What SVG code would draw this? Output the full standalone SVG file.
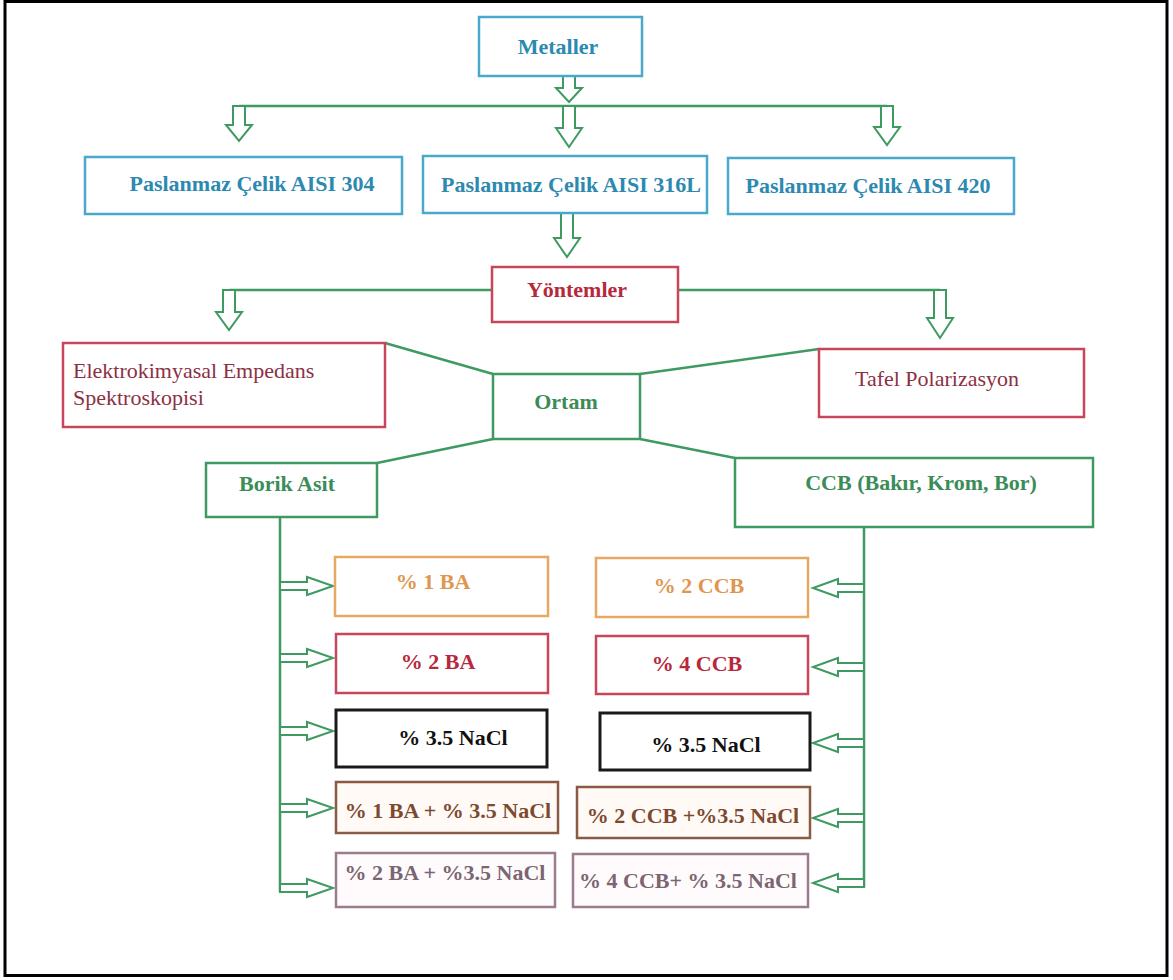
<svg xmlns="http://www.w3.org/2000/svg" width="1173" height="980" viewBox="0 0 1173 980">
<style>
  text { font-family: "Liberation Serif", "Times New Roman", serif; font-size: 22px; }
  .b { font-weight: bold; text-anchor: middle; }
  .box { fill: #ffffff; stroke-width: 2.5; }
  .blue { stroke: #4aa8cc; }
  .red { stroke: #c8465c; }
  .grn { stroke: #3f9a62; }
  .org { stroke: #e8a862; }
  .blk { stroke: #1a1a1a; stroke-width: 3; }
  .brn { stroke: #8a5a45; }
  .pur { stroke: #9a7c8c; }
  .tblue { fill: #2c89b0; }
  .tred { fill: #b8283c; }
  .tmar { fill: #8c3045; }
  .tgrn { fill: #3b8c58; }
  .torg { fill: #e0964f; }
  .tblk { fill: #111111; }
  .tbrn { fill: #7d4a30; }
  .tpur { fill: #7a6672; }
  .ln { stroke: #3f9a62; stroke-width: 2.5; fill: none; }
  .arr { stroke: #3f9a62; stroke-width: 2; fill: #ffffff; stroke-linejoin: miter; }
</style>
<rect x="0" y="0" width="1173" height="980" fill="#ffffff"/>
<rect x="5" y="1.5" width="1162" height="974" fill="none" stroke="#000000" stroke-width="3"/>

<g id="connectors">
  <line class="ln" x1="239" y1="106" x2="887" y2="106"/>
  <line class="ln" x1="492" y1="290" x2="229" y2="290"/>
  <line class="ln" x1="678" y1="290" x2="940" y2="290"/>
  <line class="ln" x1="385" y1="343" x2="493" y2="374"/>
  <line class="ln" x1="819" y1="349" x2="640" y2="374"/>
  <line class="ln" x1="493" y1="439" x2="377" y2="463"/>
  <line class="ln" x1="640" y1="439" x2="735" y2="458"/>
  <line class="ln" x1="280" y1="517" x2="280" y2="892"/>
  <line class="ln" x1="864" y1="527" x2="864" y2="887"/>
  <path class="arr" d="M563,76 L563,88 L556,88 L569,102 L582,88 L575,88 L575,76 Z"/>
  <path class="arr" d="M233,106 L233,125 L226,125 L239,141 L252,125 L245,125 L245,106 Z"/>
  <path class="arr" d="M563,106 L563,128 L556,128 L569,147 L582,128 L575,128 L575,106 Z"/>
  <path class="arr" d="M881,106 L881,127 L874,127 L887,145 L900,127 L893,127 L893,106 Z"/>
  <path class="arr" d="M561,213 L561,238 L554,238 L567,257 L580,238 L573,238 L573,213 Z"/>
  <path class="arr" d="M223,290 L223,312 L216,312 L229,330 L242,312 L235,312 L235,290 Z"/>
  <path class="arr" d="M934,290 L934,318 L927,318 L940,338 L953,318 L946,318 L946,290 Z"/>
  <path class="arr" d="M280,582 L307,582 L307,577 L333,586 L307,595 L307,590 L280,590 Z"/>
  <path class="arr" d="M280,654 L307,654 L307,649 L333,658 L307,667 L307,662 L280,662 Z"/>
  <path class="arr" d="M280,727 L307,727 L307,722 L333,731 L307,740 L307,735 L280,735 Z"/>
  <path class="arr" d="M280,804 L307,804 L307,799 L333,808 L307,817 L307,812 L280,812 Z"/>
  <path class="arr" d="M280,884 L307,884 L307,879 L333,888 L307,897 L307,892 L280,892 Z"/>
  <path class="arr" d="M864,584 L838,584 L838,579 L813,588 L838,597 L838,592 L864,592 Z"/>
  <path class="arr" d="M864,663 L838,663 L838,658 L813,667 L838,676 L838,671 L864,671 Z"/>
  <path class="arr" d="M864,739 L838,739 L838,734 L813,743 L838,752 L838,747 L864,747 Z"/>
  <path class="arr" d="M864,814 L838,814 L838,809 L813,818 L838,827 L838,822 L864,822 Z"/>
  <path class="arr" d="M864,879 L838,879 L838,874 L813,883 L838,892 L838,887 L864,887 Z"/>
</g>

<g id="metaller">
  <rect class="box blue" x="479" y="17" width="163" height="59"/>
  <text class="b tblue" x="558" y="54">Metaller</text>
</g>
<g id="aisi304">
  <rect class="box blue" x="85" y="157" width="317" height="57"/>
  <text class="b tblue" x="252" y="191">Paslanmaz Çelik AISI 304</text>
</g>
<g id="aisi316l">
  <rect class="box blue" x="423" y="156" width="284" height="57"/>
  <text class="b tblue" x="571" y="192">Paslanmaz Çelik AISI 316L</text>
</g>
<g id="aisi420">
  <rect class="box blue" x="728" y="158" width="286" height="56"/>
  <text class="b tblue" x="868" y="193">Paslanmaz Çelik AISI 420</text>
</g>
<g id="yontemler">
  <rect class="box red" x="492" y="267" width="186" height="55"/>
  <text class="b tred" x="577" y="297">Yöntemler</text>
</g>
<g id="eis">
  <rect class="box red" x="63" y="343" width="322" height="84"/>
  <text class="tmar" x="73" y="378">Elektrokimyasal Empedans</text>
  <text class="tmar" x="73" y="405">Spektroskopisi</text>
</g>
<g id="tafel">
  <rect class="box red" x="819" y="349" width="265" height="68"/>
  <text class="tmar" x="937" y="386" text-anchor="middle">Tafel Polarizasyon</text>
</g>
<g id="ortam">
  <rect class="box grn" x="493" y="374" width="147" height="65"/>
  <text class="b tgrn" x="566" y="409">Ortam</text>
</g>
<g id="borik">
  <rect class="box grn" x="206" y="463" width="171" height="54"/>
  <text class="b tgrn" x="287" y="491">Borik Asit</text>
</g>
<g id="ccb">
  <rect class="box grn" x="735" y="458" width="358" height="69"/>
  <text class="b tgrn" x="921" y="490">CCB (Bakır, Krom, Bor)</text>
</g>

<g id="ba1">
  <rect class="box org" x="335" y="557" width="213" height="59"/>
  <text class="b torg" x="433" y="589">% 1 BA</text>
</g>
<g id="ba2">
  <rect class="box red" x="336" y="634" width="212" height="59"/>
  <text class="b tred" x="438" y="669">% 2 BA</text>
</g>
<g id="nacl-left">
  <rect class="box blk" x="336" y="710" width="211" height="57"/>
  <text class="b tblk" x="453" y="745">% 3.5 NaCl</text>
</g>
<g id="ba1-nacl">
  <rect class="box brn" x="336" y="782" width="222" height="51" style="fill:#fffaf6"/>
  <text class="b tbrn" x="448" y="818">% 1 BA + % 3.5 NaCl</text>
</g>
<g id="ba2-nacl">
  <rect class="box pur" x="336" y="853" width="219" height="54" style="fill:#fffbfc"/>
  <text class="b tpur" x="445" y="880">% 2 BA + %3.5 NaCl</text>
</g>

<g id="ccb2">
  <rect class="box org" x="596" y="558" width="212" height="59"/>
  <text class="b torg" x="699" y="593">% 2 CCB</text>
</g>
<g id="ccb4">
  <rect class="box red" x="596" y="636" width="212" height="58"/>
  <text class="b tred" x="697" y="671">% 4 CCB</text>
</g>
<g id="nacl-right">
  <rect class="box blk" x="600" y="713" width="210" height="57"/>
  <text class="b tblk" x="706" y="752">% 3.5 NaCl</text>
</g>
<g id="ccb2-nacl">
  <rect class="box brn" x="577" y="787" width="233" height="51" style="fill:#fffaf6"/>
  <text class="b tbrn" x="693" y="823">% 2 CCB +%3.5 NaCl</text>
</g>
<g id="ccb4-nacl">
  <rect class="box pur" x="573" y="854" width="235" height="53" style="fill:#fffbfc"/>
  <text class="b tpur" x="688" y="888">% 4 CCB+ % 3.5 NaCl</text>
</g>
</svg>
